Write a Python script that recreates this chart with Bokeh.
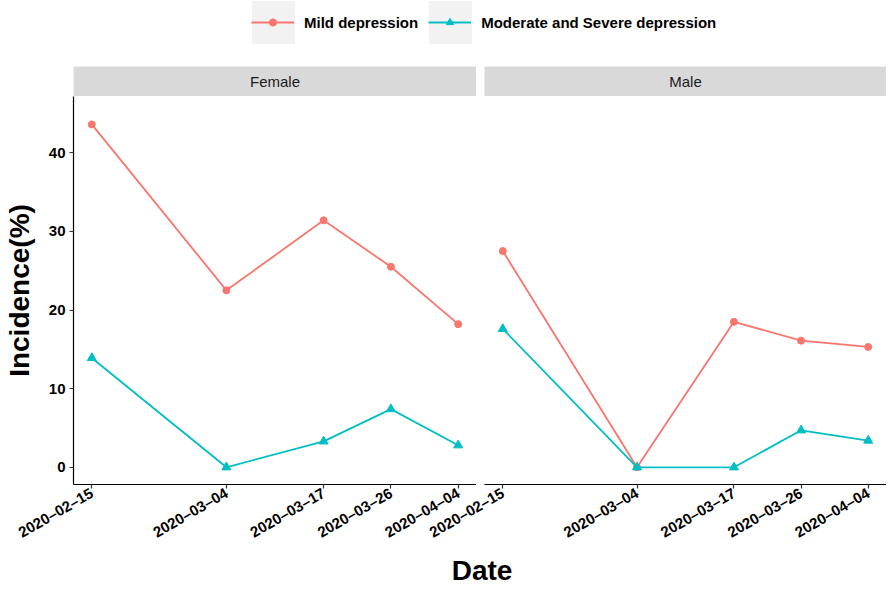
import math
import pandas as pd
from bokeh.plotting import figure
from bokeh.layouts import column, row
from bokeh.models import Range1d, FixedTicker, Legend, LegendItem, Label, ColumnDataSource
from bokeh.embed import file_html
from bokeh.resources import INLINE

# ---------------- data ----------------
dates = ["2020-02-15", "2020-03-04", "2020-03-17", "2020-03-26", "2020-04-04"]
tick_labels = ["2020–02–15", "2020–03–04", "2020–03–17", "2020–03–26", "2020–04–04"]
panels = ["Female", "Male"]
series_names = ["Mild depression", "Moderate and Severe depression"]
female_mild = [43.6, 22.5, 31.4, 25.5, 18.2]
female_modsev = [13.9, 0.0, 3.3, 7.4, 2.8]
male_mild = [27.5, 0.0, 18.5, 16.1, 15.3]
male_modsev = [17.6, 0.0, 0.0, 4.7, 3.4]
y_ticks = [0, 10, 20, 30, 40]
x_title = "Date"
y_title = "Incidence(%)"

colors = ["#F8766D", "#00BFC4"]
markers = ["circle", "triangle"]
msizes = [7, 9]
FONT = "Liberation Sans"
NAN = float("nan")

d = pd.to_datetime(dates)
days = [int((x - d[0]).days) for x in d]
overrides = {days[i]: tick_labels[i] for i in range(len(days))}

x_rng = Range1d(-2.45, 51.45)
y_rng = Range1d(-2.19, 47.15)

FRAME_H = 388
FW_F = 403
FW_M = 402
LEFT = 73


def make_panel(mild, modsev, left_border, fw, show_y):
    p = figure(frame_width=fw, frame_height=FRAME_H, x_range=x_rng, y_range=y_rng,
               output_backend="svg", toolbar_location=None,
               min_border_left=left_border, min_border_right=0,
               min_border_top=0, min_border_bottom=60)
    p.outline_line_color = None
    p.grid.visible = False
    p.border_fill_alpha = 0
    src = ColumnDataSource(dict(x=days, mild=mild, modsev=modsev))
    for i, col in enumerate(["mild", "modsev"]):
        p.line("x", col, source=src, line_color=colors[i], line_width=1.8)
        p.scatter("x", col, source=src, marker=markers[i], size=msizes[i],
                  fill_color=colors[i], line_color=colors[i])
    xa = p.xaxis[0]
    xa.ticker = FixedTicker(ticks=days)
    xa.major_label_overrides = overrides
    xa.major_label_orientation = math.pi / 6
    xa.major_label_text_font = FONT
    xa.major_label_text_font_size = "15px"
    xa.major_label_text_font_style = "bold"
    xa.major_label_text_color = "black"
    xa.major_label_standoff = 3
    xa.axis_line_width = 1.2
    xa.axis_line_color = "black"
    xa.major_tick_line_color = "#333333"
    xa.major_tick_line_width = 1.2
    xa.major_tick_out = 4
    xa.major_tick_in = 0
    xa.minor_tick_line_color = None
    ya = p.yaxis[0]
    if show_y:
        ya.ticker = FixedTicker(ticks=y_ticks)
        ya.major_label_text_font = FONT
        ya.major_label_text_font_size = "15px"
        ya.major_label_text_font_style = "bold"
        ya.major_label_text_color = "black"
        ya.major_label_standoff = 4
        ya.axis_line_width = 1.2
        ya.axis_line_color = "black"
        ya.major_tick_line_color = "#333333"
        ya.major_tick_line_width = 1.2
        ya.major_tick_out = 4
        ya.major_tick_in = 0
        ya.minor_tick_line_color = None
        ya.axis_label = y_title
        ya.axis_label_text_font = FONT
        ya.axis_label_text_font_size = "28px"
        ya.axis_label_text_font_style = "bold"
        ya.axis_label_text_color = "black"
        ya.axis_label_standoff = 11
    else:
        ya.visible = False
    return p


def make_strip(name, left_border, fw):
    s = figure(frame_width=fw, frame_height=30, x_range=Range1d(0, 1), y_range=Range1d(0, 1),
               min_border_left=left_border, min_border_right=0, min_border_top=0,
               min_border_bottom=0, x_axis_location=None, y_axis_location=None,
               output_backend="svg", toolbar_location=None)
    s.background_fill_color = "#D9D9D9"
    s.outline_line_color = None
    s.grid.visible = False
    s.add_layout(Label(x=0.5, y=0.5, text=name, text_align="center", text_baseline="middle",
                       text_font=FONT, text_font_size="15px", text_color="#1A1A1A"))
    return s


female = make_panel(female_mild, female_modsev, LEFT, FW_F, True)
male = make_panel(male_mild, male_modsev, 68, FW_M, False)
male.margin = (0, 0, 0, -60)

strip_f = make_strip(panels[0], LEFT, FW_F)
strip_m = make_strip(panels[1], 8, FW_M)

TOTAL_W = LEFT + FW_F + 8 + FW_M

# ---------------- legend ----------------
LEG_H = 66
lf = figure(width=TOTAL_W, height=LEG_H, min_border=0, x_range=Range1d(0, 1), y_range=Range1d(0, 1),
            x_axis_location=None, y_axis_location=None, output_backend="svg",
            toolbar_location=None)
lf.outline_line_color = None
lf.grid.visible = False
key_bg = lf.quad(left=[NAN], right=[NAN], top=[NAN], bottom=[NAN],
                 fill_color="#F2F2F2", line_color=None)
items_a, items_b = [], []
for i in range(2):
    lr = lf.line(x=[NAN], y=[NAN], line_color=colors[i], line_width=1.8)
    sr = lf.scatter(x=[NAN], y=[NAN], marker=markers[i], fill_color=colors[i], line_color=colors[i])
    items_a.append(LegendItem(label=series_names[i], renderers=[lr, sr]))
    items_b.append(LegendItem(label=series_names[i], renderers=[key_bg]))

leg_a_x = 251
leg_b = Legend(items=items_b, orientation="horizontal", location=(leg_a_x - 5.4, LEG_H - 22 - 27),
               glyph_width=54, glyph_height=54, label_standoff=4, spacing=5,
               padding=0, margin=0, border_line_color=None, background_fill_alpha=0,
               label_text_font=FONT, label_text_font_size="15px",
               label_text_font_style="bold", label_text_alpha=0)
leg_a = Legend(items=items_a, orientation="horizontal", location=(leg_a_x, LEG_H - 22 - 9),
               glyph_width=43, glyph_height=18, label_standoff=10, spacing=10,
               padding=0, margin=0, border_line_color=None, background_fill_alpha=0,
               label_height=18,
               label_text_font=FONT, label_text_font_size="15px",
               label_text_font_style="bold", label_text_color="black")
lf.add_layout(leg_b, "center")
lf.add_layout(leg_a, "center")

# ---------------- shared x title ----------------
df = figure(width=TOTAL_W, height=38, min_border=0, x_range=Range1d(0, TOTAL_W), y_range=Range1d(0, 1),
            x_axis_location=None, y_axis_location=None, output_backend="svg",
            toolbar_location=None)
df.outline_line_color = None
df.grid.visible = False
df.add_layout(Label(x=(LEFT + TOTAL_W) / 2 + 2, y=0.48, text=x_title,
                    text_align="center", text_baseline="middle", text_font=FONT,
                    text_font_size="28px", text_font_style="bold", text_color="black"))

layout = column(lf, row(strip_f, strip_m), row(female, male), df)
open("out.html", "w").write(file_html(layout, INLINE))
